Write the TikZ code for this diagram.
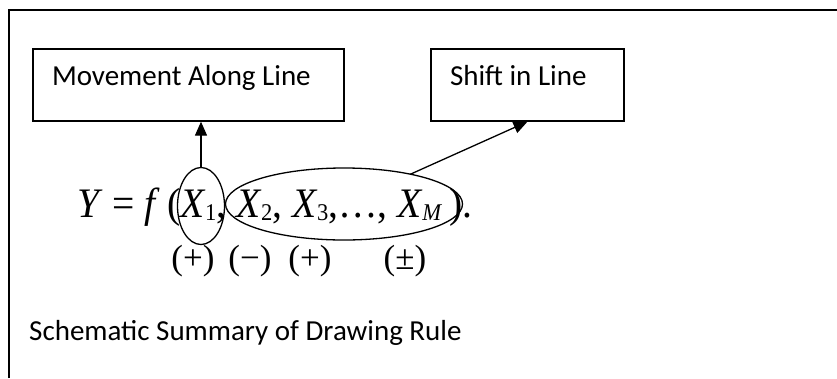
\documentclass[tikz,border=0pt]{standalone}
\usepackage{fontspec}
\usepackage{tikz}
\setmainfont{Carlito}
\newfontfamily\EqFont[FakeStretch=0.94]{Liberation Serif}
\newfontfamily\SignFont{Liberation Serif}
\newcommand{\VarX}[1]{\textit{X}\kern-0.5pt\raisebox{-3pt}{\fontsize{24}{24}\selectfont #1}}
\newcommand{\BoxText}[2]{\makebox[#1][l]{#2}}
\newcommand{\LblMove}{Movement Along Line}
\newcommand{\LblShift}{Shift in Line}
\usetikzlibrary{arrows.meta,shapes}

\begin{document}
\begin{tikzpicture}[x=1pt,y=-1pt,>={Triangle[length=14pt,width=12pt]},
    box/.style={draw, line width=1.3pt, inner xsep=19pt, inner ysep=0pt,
      text height=36pt, text depth=36pt, font=\fontsize{29}{29}\selectfont},
    ring/.style={draw, ellipse, line width=1.3pt, inner sep=0pt, outer sep=0pt},
    sign/.style={font=\SignFont\fontsize{35}{35}\selectfont, inner sep=0pt}]

      \useasboundingbox (0,0) rectangle (837,378);
      \draw[line width=1.3pt] (9,378) -- (9,10) -- (837,10); % open frame

      \node[box] (moveBox) at (188.5,85) {\BoxText{273pt}{\LblMove}};
      \node[box, node distance=339pt] (shiftBox) [right of=moveBox] {\BoxText{155pt}{\LblShift}};

      \node[anchor=base west, inner sep=0pt, font=\EqFont\fontsize{42}{42}\selectfont] (eqn) at (77,217)
        {\textit{Y} = \textit{f}\,(\VarX{1}, \VarX{2}, \VarX{3},\ldots, \VarX{\textit{M}}\,).};

      \node[sign] (sA) at (193,261) {(+)};
      \node[sign, node distance=57pt] (sB) [right of=sA] {(−)};
      \node[sign, node distance=60pt] (sC) [right of=sB] {(+)};
      \node[sign, node distance=95pt] (sD) [right of=sC] {(±)};

      \node[ring, minimum width=47pt, minimum height=77pt] (ringA) at (201,206) {};
      \node[ring, minimum width=237pt, minimum height=72pt] (ringB) at (344,204) {};

      \draw[->, line width=1.3pt] (ringA.north) -- (ringA.north |- moveBox.south);
      \draw[->, line width=1.3pt] (ringB) -- (shiftBox.south);

      \node[anchor=base west, inner sep=0pt, font=\fontsize{29}{29}\selectfont] (caption) at (29,340)
        {Schematic Summary of Drawing Rule};
    \end{tikzpicture}
\end{document}
